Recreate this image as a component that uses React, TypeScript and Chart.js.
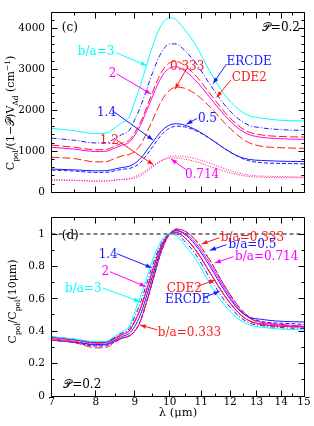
import React, { useEffect, useRef } from "react";
import { Chart, registerables } from "chart.js";

Chart.register(...registerables);

const FAMILY = "'DejaVu Serif', 'DejaVu Sans', serif";
const CYAN = "#00ffff";
const BLUE = "#1a1aff";
const RED = "#ff1a1a";
const MAGENTA = "#ff00ff";

// wavelength grid (micron)
const wavelength = [7, 7.5, 8, 8.25, 8.45, 8.65, 8.85, 9.0, 9.15, 9.3, 9.5, 9.7, 9.85, 10.0, 10.2, 10.45, 10.8, 11.3, 11.8, 12.3, 12.7, 13.2, 13.8, 14.4, 15];

// Panel (c): C_pol/(1-P)V_Ad  (cm^-1)
const cBa3 = [1560, 1500, 1430, 1440, 1555, 1690, 1830, 2215, 2595, 3020, 3575, 4000, 4190, 4255, 4210, 3980, 3615, 2935, 2385, 2030, 1870, 1810, 1765, 1745, 1740];
const cERCDE = [1321, 1267, 1202, 1209, 1296, 1405, 1506, 1774, 2071, 2433, 2925, 3330, 3530, 3620, 3620, 3468, 3178, 2625, 2136, 1796, 1636, 1571, 1535, 1517, 1510];
const cCDE2 = [1150, 1097, 1036, 1043, 1112, 1194, 1270, 1454, 1691, 2007, 2449, 2844, 3049, 3160, 3192, 3097, 2860, 2402, 1959, 1627, 1469, 1397, 1365, 1352, 1346];
const cBa2 = [1097, 1051, 994, 1000, 1067, 1145, 1218, 1394, 1621, 1924, 2348, 2727, 2924, 3030, 3060, 2969, 2742, 2303, 1879, 1560, 1409, 1339, 1309, 1297, 1291];
const cBa0333 = [855, 820, 740, 745, 815, 884, 921, 996, 1145, 1394, 1768, 2141, 2353, 2490, 2565, 2540, 2403, 2079, 1693, 1382, 1210, 1120, 1090, 1078, 1070];
const cBa14 = [565, 545, 522, 525, 559, 602, 633, 705, 817, 981, 1219, 1443, 1566, 1640, 1673, 1640, 1533, 1309, 1066, 877, 800, 775, 760, 752, 750];
const cBa05 = [540, 516, 482, 485, 516, 556, 579, 626, 720, 876, 1111, 1346, 1479, 1565, 1612, 1596, 1510, 1307, 1064, 869, 767, 720, 704, 700, 690];
const cBa0714 = [305, 292, 272, 273, 290, 310, 322, 346, 398, 484, 614, 744, 817, 865, 885, 870, 820, 705, 575, 470, 418, 394, 384, 378, 372];
const cBa12 = [298, 286, 270, 272, 290, 312, 332, 380, 443, 526, 642, 745, 799, 828, 836, 811, 749, 629, 513, 426, 385, 366, 358, 354, 353];

// Panel (d): C_pol / C_pol(10 micron)
const dBa3 = [0.367, 0.352, 0.336, 0.338, 0.365, 0.397, 0.43, 0.52, 0.61, 0.71, 0.84, 0.94, 0.985, 1.0, 0.99, 0.935, 0.85, 0.69, 0.56, 0.477, 0.44, 0.425, 0.415, 0.41, 0.408];
const dERCDE = [0.365, 0.35, 0.332, 0.334, 0.358, 0.388, 0.416, 0.49, 0.572, 0.672, 0.808, 0.92, 0.975, 1.0, 1.0, 0.958, 0.878, 0.725, 0.59, 0.496, 0.452, 0.434, 0.424, 0.419, 0.417];
const dCDE2 = [0.362, 0.347, 0.328, 0.33, 0.352, 0.378, 0.402, 0.46, 0.535, 0.635, 0.775, 0.9, 0.965, 1.0, 1.01, 0.98, 0.905, 0.76, 0.62, 0.515, 0.465, 0.442, 0.432, 0.428, 0.426];
const dBa2 = [0.363, 0.348, 0.329, 0.331, 0.353, 0.379, 0.403, 0.461, 0.536, 0.636, 0.776, 0.901, 0.966, 1.0, 1.011, 0.981, 0.906, 0.761, 0.621, 0.516, 0.466, 0.443, 0.433, 0.429, 0.427];
const dBa0333 = [0.345, 0.33, 0.297, 0.299, 0.328, 0.355, 0.37, 0.4, 0.46, 0.56, 0.71, 0.86, 0.945, 1.0, 1.03, 1.02, 0.965, 0.835, 0.68, 0.555, 0.486, 0.45, 0.438, 0.433, 0.43];
const dBa14 = [0.345, 0.332, 0.318, 0.32, 0.341, 0.367, 0.386, 0.43, 0.498, 0.598, 0.743, 0.88, 0.955, 1.0, 1.02, 1.0, 0.935, 0.798, 0.65, 0.535, 0.488, 0.473, 0.463, 0.459, 0.457];
const dBa05 = [0.345, 0.33, 0.308, 0.31, 0.33, 0.355, 0.37, 0.4, 0.46, 0.56, 0.71, 0.86, 0.945, 1.0, 1.03, 1.02, 0.965, 0.835, 0.68, 0.555, 0.49, 0.46, 0.45, 0.447, 0.441];
const dBa0714 = [0.353, 0.338, 0.314, 0.316, 0.335, 0.358, 0.372, 0.4, 0.46, 0.56, 0.71, 0.86, 0.945, 1.0, 1.023, 1.006, 0.948, 0.815, 0.665, 0.543, 0.483, 0.455, 0.444, 0.437, 0.43];
const dBa12 = [0.36, 0.346, 0.326, 0.329, 0.35, 0.378, 0.401, 0.46, 0.535, 0.635, 0.775, 0.9, 0.965, 1.0, 1.01, 0.98, 0.905, 0.76, 0.62, 0.515, 0.465, 0.442, 0.432, 0.428, 0.426];

const refLineX = [7, 15];
const refLineY = [1, 1];

// ticks
const xMajorTicks = [7, 8, 9, 10, 11, 12, 13, 14, 15];
const xMinorTicks = [7.5, 8.5, 9.5, 10.5, 11.5, 12.5, 13.5, 14.5];
const cYMajorTicks = [0, 1000, 2000, 3000, 4000];
const cYMinorTicks = [200, 400, 600, 800, 1200, 1400, 1600, 1800, 2200, 2400, 2600, 2800, 3200, 3400, 3600, 3800, 4200];
const dYMajorTicks = [0, 0.2, 0.4, 0.6, 0.8, 1];
const dYMinorTicks = [0.1, 0.3, 0.5, 0.7, 0.9];

type Run = { t: string; k?: "sub" | "sup" };
type Note = { runs: Run[]; color: string; at: [number, number]; align?: "left" | "right" | "center"; arrow?: [number, number, number, number] };
type Title = { runs: Run[]; x: number; y: number; rotate: boolean; size: number };

const P = "\u{1D4AB}";

const cNotes: Note[] = [
  { runs: [{ t: "(c)" }], color: "#000", at: [7.22, 4049] },
  { runs: [{ t: P }, { t: "=0.2" }], color: "#000", at: [14.82, 4049], align: "right" },
  { runs: [{ t: "b/a=3" }], color: CYAN, at: [7.58, 3446], arrow: [8.52, 3400, 9.33, 3092] },
  { runs: [{ t: "2" }], color: MAGENTA, at: [8.32, 2913], arrow: [8.52, 2890, 9.45, 2400] },
  { runs: [{ t: "1.4" }], color: BLUE, at: [8.03, 1963], arrow: [8.42, 1986, 9.51, 1275] },
  { runs: [{ t: "1.2" }], color: RED, at: [8.1, 1291], arrow: [8.52, 1275, 9.52, 672] },
  { runs: [{ t: "0.333" }], color: RED, at: [10.01, 3092], arrow: [10.52, 3013, 10.16, 2512] },
  { runs: [{ t: "ERCDE" }], color: BLUE, at: [11.87, 3207], arrow: [11.87, 3129, 11.4, 2651] },
  { runs: [{ t: "CDE2" }], color: RED, at: [12.06, 2820], arrow: [12.04, 2744, 11.52, 2318] },
  { runs: [{ t: "0.5" }], color: BLUE, at: [10.89, 1817], arrow: [10.86, 1800, 10.52, 1662] },
  { runs: [{ t: "0.714" }], color: MAGENTA, at: [10.47, 463], arrow: [10.52, 542, 10.04, 811] },
];

const dNotes: Note[] = [
  { runs: [{ t: "(d)" }], color: "#000", at: [7.22, 0.996] },
  { runs: [{ t: "1.4" }], color: BLUE, at: [8.07, 0.879], arrow: [8.52, 0.879, 9.47, 0.792] },
  { runs: [{ t: "2" }], color: MAGENTA, at: [8.14, 0.773], arrow: [8.35, 0.767, 9.3, 0.676] },
  { runs: [{ t: "b/a=3" }], color: CYAN, at: [7.29, 0.666], arrow: [8.18, 0.666, 9.14, 0.582] },
  { runs: [{ t: "b/a=0.333" }], color: RED, at: [9.65, 0.396], arrow: [9.63, 0.408, 9.14, 0.439] },
  { runs: [{ t: "b/a=0.333" }], color: RED, at: [11.67, 0.981], arrow: [11.62, 0.977, 11.01, 0.938] },
  { runs: [{ t: "b/a=0.5" }], color: BLUE, at: [11.94, 0.938], arrow: [11.87, 0.934, 11.29, 0.899] },
  { runs: [{ t: "b/a=0.714" }], color: MAGENTA, at: [12.18, 0.864], arrow: [12.12, 0.86, 11.46, 0.821] },
  { runs: [{ t: "CDE2" }], color: RED, at: [9.91, 0.666], arrow: [10.85, 0.676, 11.46, 0.715] },
  { runs: [{ t: "ERCDE" }], color: BLUE, at: [9.86, 0.598], arrow: [11.07, 0.607, 11.63, 0.646] },
  { runs: [{ t: P }, { t: "=0.2" }], color: "#000", at: [7.25, 0.077] },
];

const cTitles: Title[] = [
  {
    runs: [{ t: "C" }, { t: "pol", k: "sub" }, { t: "/(1\u2212" }, { t: P }, { t: ")V" }, { t: "Ad", k: "sub" }, { t: " (cm" }, { t: "\u22121", k: "sup" }, { t: ")" }],
    x: 10.5, y: 113, rotate: true, size: 11,
  },
];
const dTitles: Title[] = [
  {
    runs: [{ t: "C" }, { t: "pol", k: "sub" }, { t: "/C" }, { t: "pol", k: "sub" }, { t: "(10\u03bcm)" }],
    x: 12.5, y: 96.5, rotate: true, size: 11,
  },
  { runs: [{ t: "\u03bb (\u03bcm)" }], x: 178, y: 207, rotate: false, size: 11.5 },
];

function fontFor(r: Run, size: number) {
  const s = r.k ? size * 0.68 : size;
  return `${s}px ${FAMILY}`;
}

function drawRich(ctx: CanvasRenderingContext2D, runs: Run[], x: number, y: number, size: number, color: string, align: string, rotate: boolean) {
  ctx.save();
  ctx.translate(x, y);
  if (rotate) ctx.rotate(-Math.PI / 2);
  ctx.fillStyle = color;
  ctx.textAlign = "left";
  ctx.textBaseline = "alphabetic";
  let w = 0;
  runs.forEach((r) => {
    ctx.font = fontFor(r, size);
    w += ctx.measureText(r.t).width;
  });
  let cx = align === "left" ? 0 : align === "right" ? -w : -w / 2;
  const base = size * 0.36;
  runs.forEach((r) => {
    ctx.font = fontFor(r, size);
    const dy = r.k === "sub" ? size * 0.3 : r.k === "sup" ? -size * 0.45 : 0;
    ctx.fillText(r.t, cx, base + dy);
    cx += ctx.measureText(r.t).width;
  });
  ctx.restore();
}

function drawArrow(ctx: CanvasRenderingContext2D, x1: number, y1: number, x2: number, y2: number, color: string) {
  ctx.save();
  ctx.strokeStyle = color;
  ctx.fillStyle = color;
  ctx.lineWidth = 1;
  ctx.setLineDash([]);
  ctx.beginPath();
  ctx.moveTo(x1, y1);
  ctx.lineTo(x2, y2);
  ctx.stroke();
  const ang = Math.atan2(y2 - y1, x2 - x1);
  const L = 6, W = 2.2;
  const c = Math.cos(ang), s = Math.sin(ang);
  ctx.beginPath();
  ctx.moveTo(x2, y2);
  ctx.lineTo(x2 - L * c + W * s, y2 - L * s - W * c);
  ctx.lineTo(x2 - L * c - W * s, y2 - L * s + W * c);
  ctx.closePath();
  ctx.fill();
  ctx.restore();
}

function makePanelPlugin(id: string, yMajor: number[], yMinor: number[], notes: Note[], titles: Title[]) {
  return {
    id,
    afterDatasetsDraw(chart: any) {
      const ctx = chart.ctx as CanvasRenderingContext2D;
      const a = chart.chartArea;
      const xs = chart.scales.x;
      const ys = chart.scales.y;
      const snap = (v: number) => Math.floor(v) + 0.5;
      ctx.save();
      ctx.strokeStyle = "#000";
      ctx.lineWidth = 1;
      ctx.setLineDash([]);
      const L = snap(a.left), R = snap(a.right), T = snap(a.top), B = snap(a.bottom);
      ctx.beginPath();
      ctx.rect(L, T, R - L, B - T);
      ctx.stroke();
      ctx.beginPath();
      const xt = (vals: number[], len: number) =>
        vals.forEach((v) => {
          const p = snap(xs.getPixelForValue(v));
          ctx.moveTo(p, B);
          ctx.lineTo(p, B - len);
          ctx.moveTo(p, T);
          ctx.lineTo(p, T + len);
        });
      const yt = (vals: number[], len: number) =>
        vals.forEach((v) => {
          const p = snap(ys.getPixelForValue(v));
          ctx.moveTo(L, p);
          ctx.lineTo(L + len, p);
          ctx.moveTo(R, p);
          ctx.lineTo(R - len, p);
        });
      xt(xMajorTicks, 6);
      xt(xMinorTicks, 3);
      yt(yMajor, 6);
      yt(yMinor, 3);
      ctx.stroke();
      ctx.restore();

      notes.forEach((n) => {
        if (n.arrow) {
          const [a1, b1, a2, b2] = n.arrow;
          drawArrow(ctx, xs.getPixelForValue(a1), ys.getPixelForValue(b1), xs.getPixelForValue(a2), ys.getPixelForValue(b2), n.color);
        }
        drawRich(ctx, n.runs, xs.getPixelForValue(n.at[0]), ys.getPixelForValue(n.at[1]), 12, n.color, n.align || "left", false);
      });
      titles.forEach((t) => drawRich(ctx, t.runs, t.x, t.y, t.size, "#000", "center", t.rotate));
    },
  };
}

type SeriesSpec = { label: string; data: number[]; color: string; dash: number[] };

const cSeries: SeriesSpec[] = [
  { label: "b/a=3", data: cBa3, color: CYAN, dash: [] },
  { label: "ERCDE", data: cERCDE, color: BLUE, dash: [5, 2, 1, 2] },
  { label: "CDE2", data: cCDE2, color: RED, dash: [8, 3] },
  { label: "b/a=2", data: cBa2, color: MAGENTA, dash: [] },
  { label: "b/a=0.333", data: cBa0333, color: RED, dash: [8, 3] },
  { label: "b/a=1.4", data: cBa14, color: BLUE, dash: [] },
  { label: "b/a=0.5", data: cBa05, color: BLUE, dash: [4, 2] },
  { label: "b/a=0.714", data: cBa0714, color: MAGENTA, dash: [1, 1.5] },
  { label: "b/a=1.2", data: cBa12, color: RED, dash: [1, 1.5] },
];

const dSeries: SeriesSpec[] = [
  { label: "b/a=3", data: dBa3, color: CYAN, dash: [] },
  { label: "ERCDE", data: dERCDE, color: BLUE, dash: [5, 2, 1, 2] },
  { label: "CDE2", data: dCDE2, color: RED, dash: [8, 3] },
  { label: "b/a=2", data: dBa2, color: MAGENTA, dash: [] },
  { label: "b/a=0.333", data: dBa0333, color: RED, dash: [8, 3] },
  { label: "b/a=1.4", data: dBa14, color: BLUE, dash: [] },
  { label: "b/a=0.5", data: dBa05, color: BLUE, dash: [4, 2] },
  { label: "b/a=0.714", data: dBa0714, color: MAGENTA, dash: [] },
  { label: "b/a=1.2", data: dBa12, color: RED, dash: [] },
];

function toDatasets(series: SeriesSpec[]) {
  return series.map((s) => ({
    label: s.label,
    data: wavelength.map((x, i) => ({ x, y: s.data[i] })),
    borderColor: s.color,
    borderWidth: 1,
    borderDash: s.dash,
    pointRadius: 0,
    fill: false,
    cubicInterpolationMode: "monotone",
  }));
}

function xScale(showLabels: boolean) {
  return {
    type: "logarithmic",
    min: 7,
    max: 15,
    bounds: "data",
    afterBuildTicks: (s: any) => {
      s.ticks = xMajorTicks.map((v) => ({ value: v }));
    },
    ticks: {
      display: showLabels,
      autoSkip: false,
      maxRotation: 0,
      padding: 0,
      color: "#000",
      font: { family: FAMILY, size: 10.5 },
      callback: (v: any) => String(v),
    },
    grid: { display: false, drawTicks: false },
    border: { display: false },
    afterFit: (s: any) => {
      s.height = showLabels ? 30 : 0;
    },
  };
}

function yScale(max: number, ticks: number[]) {
  return {
    type: "linear",
    min: 0,
    max,
    bounds: "data",
    afterBuildTicks: (s: any) => {
      s.ticks = ticks.map((v) => ({ value: v }));
    },
    ticks: {
      padding: 6.5,
      color: "#000",
      font: { family: FAMILY, size: 10.5 },
      callback: (v: any) => String(v),
    },
    grid: { display: false, drawTicks: false },
    border: { display: false },
    afterFit: (s: any) => {
      s.width = 51.5;
    },
  };
}

function topConfig(): any {
  return {
    type: "line",
    data: { datasets: toDatasets(cSeries) },
    options: {
      responsive: false,
      animation: false,
      devicePixelRatio: 1,
      layout: { padding: { top: 12.5, right: 10, bottom: 3.5, left: 0 } },
      plugins: { legend: { display: false }, tooltip: { enabled: false } },
      scales: { x: xScale(false), y: yScale(4380, cYMajorTicks) },
    },
    plugins: [makePanelPlugin("panelC", cYMajorTicks, cYMinorTicks, cNotes, cTitles)],
  };
}

function bottomConfig(): any {
  const ds: any[] = toDatasets(dSeries);
  ds.push({
    label: "unity",
    data: refLineX.map((x, i) => ({ x, y: refLineY[i] })),
    borderColor: "#000",
    borderWidth: 1,
    borderDash: [4, 3],
    pointRadius: 0,
    fill: false,
  });
  return {
    type: "line",
    data: { datasets: ds },
    options: {
      responsive: false,
      animation: false,
      devicePixelRatio: 1,
      layout: { padding: { top: 2, right: 10, bottom: 0, left: 0 } },
      plugins: { legend: { display: false }, tooltip: { enabled: false } },
      scales: { x: xScale(true), y: yScale(1.1, dYMajorTicks) },
    },
    plugins: [makePanelPlugin("panelD", dYMajorTicks, dYMinorTicks, dNotes, dTitles)],
  };
}

export default function App() {
  const topRef = useRef<HTMLCanvasElement>(null);
  const botRef = useRef<HTMLCanvasElement>(null);
  useEffect(() => {
    const c1 = new Chart(topRef.current as HTMLCanvasElement, topConfig());
    const c2 = new Chart(botRef.current as HTMLCanvasElement, bottomConfig());
    return () => {
      c1.destroy();
      c2.destroy();
    };
  }, []);
  return (
    <div style={{ position: "absolute", left: 0, top: 0, width: 314, height: 426, background: "#fff" }}>
      <canvas ref={topRef} width={314} height={205} style={{ position: "absolute", left: 0, top: 0, width: 314, height: 205 }} />
      <canvas ref={botRef} width={314} height={221} style={{ position: "absolute", left: 0, top: 205, width: 314, height: 221 }} />
    </div>
  );
}
